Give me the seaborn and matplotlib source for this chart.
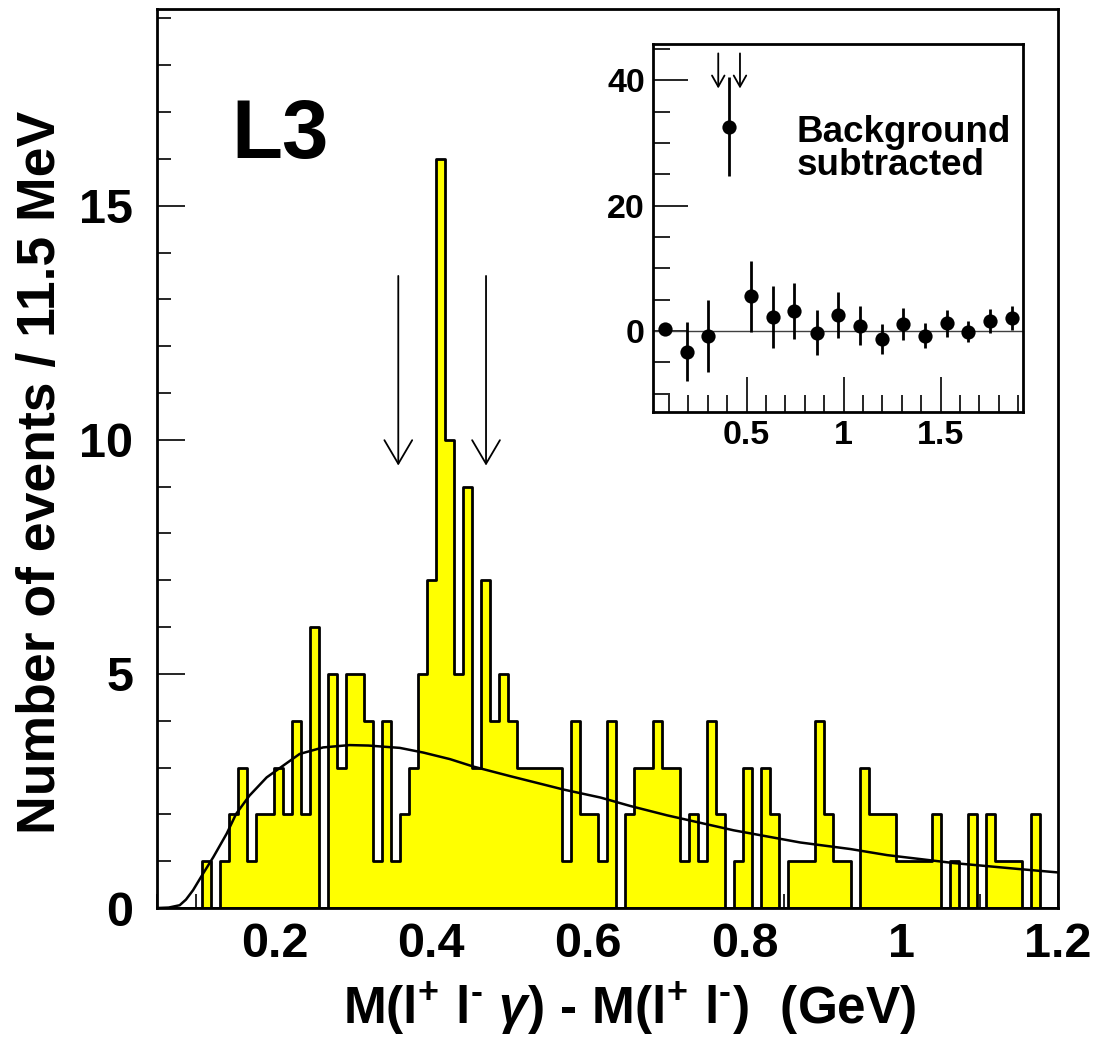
import numpy as np
import pandas as pd
import matplotlib
matplotlib.use("Agg")
import matplotlib.pyplot as plt
import seaborn as sns
from matplotlib.ticker import MultipleLocator, FuncFormatter

# main histogram: 100 bins of 11.5 MeV from 0.05 GeV
bin_start = 0.05
bin_width = 0.0115
counts = [0, 0, 0, 0, 0, 1, 0, 1, 2, 3,
          1, 2, 2, 3, 2, 4, 2, 6, 0, 5,
          3, 5, 5, 4, 1, 4, 1, 2, 3, 5,
          7, 16, 10, 5, 9, 3, 7, 4, 5, 4,
          3, 3, 3, 3, 3, 1, 4, 2, 2, 1,
          4, 0, 2, 3, 3, 4, 3, 3, 1, 2,
          1, 4, 2, 0, 1, 3, 0, 3, 2, 0,
          1, 1, 1, 4, 2, 1, 1, 0, 3, 2,
          2, 2, 1, 1, 1, 1, 2, 0, 1, 0,
          2, 0, 2, 1, 1, 1, 0, 2, 0, 0]

# background fit curve
fit_x = [0.05, 0.065, 0.079, 0.087, 0.096, 0.109, 0.122, 0.139, 0.151, 0.168,
         0.19, 0.211, 0.232, 0.262, 0.296, 0.32, 0.36, 0.39, 0.424, 0.454,
         0.5, 0.569, 0.616, 0.654, 0.701, 0.786, 0.871, 0.935, 0.982, 1.067,
         1.152, 1.2]
fit_y = [0.0, 0.01, 0.06, 0.18, 0.38, 0.74, 1.09, 1.59, 2.01, 2.40,
         2.79, 3.04, 3.29, 3.43, 3.48, 3.47, 3.42, 3.32, 3.18, 3.02,
         2.82, 2.53, 2.36, 2.18, 1.98, 1.66, 1.40, 1.26, 1.13, 0.96,
         0.83, 0.76]

# signal window arrows
arrow_x = [0.358, 0.470]

# inset: background subtracted
inset_x = [0.079, 0.191, 0.299, 0.411, 0.522, 0.636, 0.747, 0.861, 0.971,
           1.084, 1.196, 1.306, 1.419, 1.531, 1.643, 1.754, 1.869]
inset_y = [0.3, -3.3, -0.8, 32.6, 5.5, 2.2, 3.2, -0.3, 2.5,
           0.8, -1.3, 1.1, -0.8, 1.2, -0.1, 1.6, 2.1]
inset_err = [0.5, 4.75, 5.7, 7.9, 5.6, 4.9, 4.5, 3.6, 3.7,
             3.1, 2.4, 2.6, 2.0, 2.2, 1.65, 1.95, 1.9]

sns.set_style("ticks")
plt.rcParams['font.family'] = ['Liberation Sans', 'DejaVu Sans']
plt.rcParams['font.weight'] = 'bold'
plt.rcParams['mathtext.fontset'] = 'custom'
plt.rcParams['mathtext.rm'] = 'Liberation Sans:bold'
plt.rcParams['mathtext.bf'] = 'Liberation Sans:bold'
plt.rcParams['mathtext.it'] = 'Liberation Sans:italic'
for k in ['text.color', 'axes.labelcolor', 'xtick.color', 'ytick.color',
          'axes.edgecolor']:
    plt.rcParams[k] = 'black'

edges = [bin_start + bin_width * i for i in range(len(counts) + 1)]
df = pd.DataFrame({'mass': [e + bin_width / 2 for e in edges[:-1]], 'n': counts})

fig = plt.figure(figsize=(10.97, 10.40), dpi=100)
ax = fig.add_axes([0.1431, 0.1269, 0.8213, 0.8644])

sns.histplot(data=df, x='mass', weights='n', bins=edges, element='step',
             fill=True, color='yellow', alpha=1, edgecolor='black',
             linewidth=2, ax=ax)
sns.lineplot(x=fit_x, y=fit_y, color='black', linewidth=1.8, ax=ax)

for xa in arrow_x:
    ax.annotate('', xy=(xa, 9.45), xytext=(xa, 13.5),
                arrowprops=dict(arrowstyle='->, head_length=1.7, head_width=1.0',
                                color='black', lw=1.3, shrinkA=0, shrinkB=0))

ax.text(0.083, 0.834, 'L3', transform=ax.transAxes, fontsize=60,
        fontweight='bold', ha='left', va='baseline')

ax.set_xlim(0.05, 1.2)
ax.set_ylim(0, 19.2)
ax.xaxis.set_major_locator(MultipleLocator(0.2))
ax.xaxis.set_minor_locator(MultipleLocator(0.05))
ax.yaxis.set_major_locator(MultipleLocator(5))
ax.yaxis.set_minor_locator(MultipleLocator(1))
ax.xaxis.set_major_formatter(FuncFormatter(lambda v, p: '%g' % round(v, 3)))
ax.tick_params(which='both', direction='in', top=False, right=False,
               width=1.2, color='black')
ax.tick_params(which='major', length=20, labelsize=35)
ax.tick_params(which='minor', length=10)
ax.tick_params(axis='x', which='major', pad=10)
ax.tick_params(axis='y', which='major', pad=17)
for s in ax.spines.values():
    s.set_linewidth(2)
    s.set_visible(True)

ax.set_xlabel('$\\mathrm{M(l^{+}\\ l^{\u2010}\\ }\\gamma\\mathrm{)\\ \u2010\\ M(l^{+}\\ l^{\u2010})\\ \\ (GeV)}$',
              fontsize=37)
ax.xaxis.set_label_coords(0.525, -0.08)
ax.set_ylabel('Number of events / 11.5 MeV', fontsize=38.5, fontweight='bold')
ax.yaxis.set_label_coords(-0.101, 0.485)

# inset
ins = fig.add_axes([0.5955, 0.6041, 0.3367, 0.3536])
ins.axhline(0, color='0.25', linewidth=1)
ins.errorbar(inset_x, inset_y, yerr=inset_err, fmt='none', ecolor='black',
             elinewidth=2, capsize=0)
sns.scatterplot(x=inset_x, y=inset_y, color='black', s=105, edgecolor='black',
                linewidth=0, zorder=3, ax=ins)
for xa in arrow_x:
    ins.annotate('', xy=(xa - 0.004, 38.7), xytext=(xa - 0.004, 44.3),
                 arrowprops=dict(arrowstyle='->, head_length=0.8, head_width=0.45',
                                 color='black', lw=1.3, shrinkA=0, shrinkB=0))
ins.text(0.388, 0.734, 'Background', transform=ins.transAxes, fontsize=26.5,
         fontweight='bold', ha='left', va='baseline')
ins.text(0.388, 0.644, 'subtracted', transform=ins.transAxes, fontsize=26.5,
         fontweight='bold', ha='left', va='baseline')

ins.set_xlim(0.019, 1.923)
ins.set_ylim(-12.9, 45.8)
ins.xaxis.set_major_locator(MultipleLocator(0.5))
ins.xaxis.set_minor_locator(MultipleLocator(0.1))
ins.yaxis.set_major_locator(MultipleLocator(20))
ins.yaxis.set_minor_locator(MultipleLocator(5))
ins.xaxis.set_major_formatter(FuncFormatter(lambda v, p: '%g' % round(v, 3)))
ins.tick_params(which='both', direction='in', top=False, right=False,
                width=1.2, color='black')
ins.tick_params(which='major', length=25, labelsize=24.5, pad=6)
ins.tick_params(which='minor', length=12)
for s in ins.spines.values():
    s.set_linewidth(2)
    s.set_visible(True)
ins.set_xlabel('')
ins.set_ylabel('')

fig.savefig('out.png', dpi=100)
